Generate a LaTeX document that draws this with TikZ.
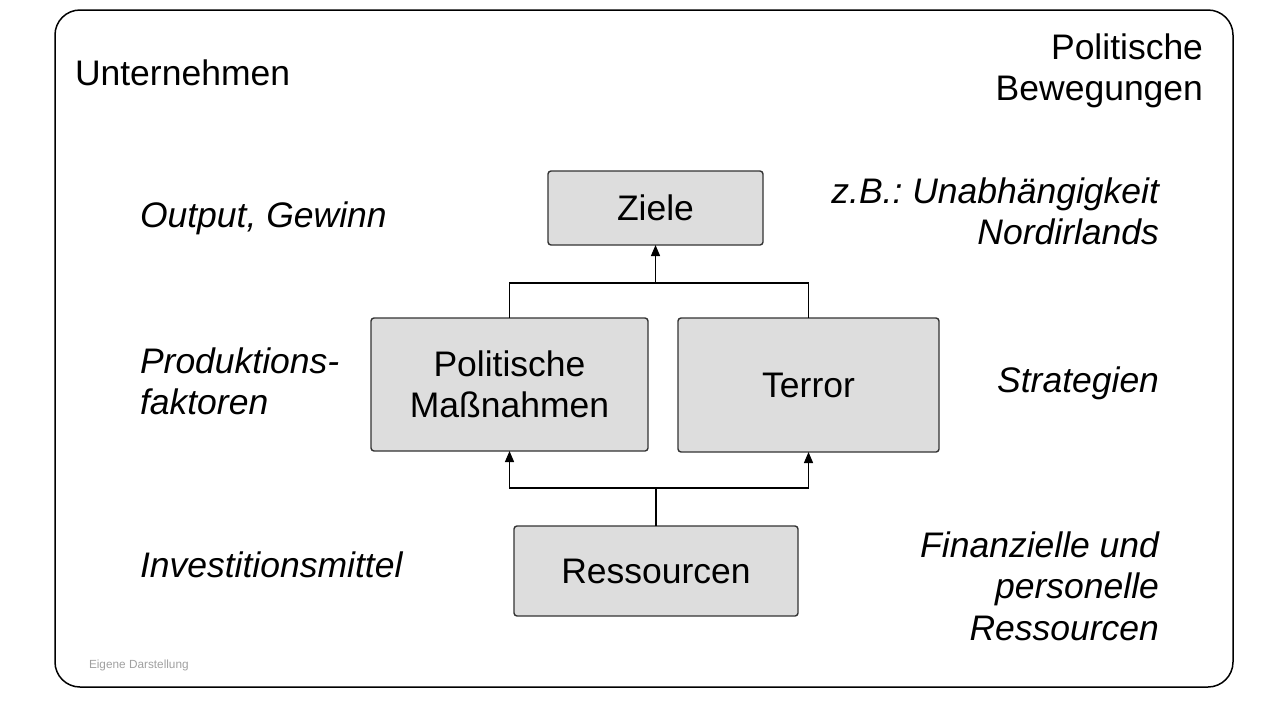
\documentclass[tikz,border=0pt]{standalone}
\usepackage{fontspec}
\setmainfont{Liberation Sans}
\usetikzlibrary{arrows.meta}
\definecolor{boxfill}{HTML}{DDDDDD}
\definecolor{boxline}{HTML}{333333}
\definecolor{notegray}{HTML}{A0A0A0}
\frenchspacing
\begin{document}
\begin{tikzpicture}[x=1pt,y=-1pt,
  every node/.style={inner sep=0pt, outer sep=0pt},
  bigfont/.style={font=\fontsize{35.5}{41.5}\selectfont},
  blockbox/.style={bigfont, draw=boxline, fill=boxfill, line width=1.4pt, rounded corners=3pt, align=center},
  lbl/.style={bigfont, anchor=base west},
  rlbl/.style={bigfont, anchor=base east},
  conn/.style={line width=1.3pt, black},
  arr/.style={conn, -{Triangle[length=11pt,width=9pt]}}]
\useasboundingbox (0,0) rectangle (1270,702);
\draw[line width=1.5pt, rounded corners=25pt] (55,10) rectangle (1233,687);

% boxes
\node[blockbox, minimum width=215pt, minimum height=74pt] (ziele) at (655.5,208) {Ziele};
\node[blockbox, minimum width=277pt, minimum height=133pt] (pm) at (509.5,384.5) {Politische\\Maßnahmen};
\node[blockbox, minimum width=261pt, minimum height=134pt] (terror) at (808.5,385) {Terror};
\node[blockbox, minimum width=284pt, minimum height=90pt] (res) at (656,571) {Ressourcen};

% junctions
\coordinate (jtop) at (ziele.south |- 0,283);
\coordinate (jbot) at (res.north |- 0,488);

\draw[conn] (pm.north) |- (jtop) -| (terror.north);
\draw[arr] (jtop) -- (ziele.south);
\draw[conn] (res.north) -- (jbot);
\draw[arr] (jbot) -| (pm.south);
\draw[arr] (jbot) -| (terror.south);

% left labels
\node[lbl] (unt) at (75,85) {Unternehmen};
\node[lbl] (out) at (140,227) {\itshape Output, Gewinn};
\node[lbl] (prod) at (140,373) {\itshape\begin{tabular}[t]{@{}l@{}}Produktions-\\faktoren\end{tabular}};
\node[lbl] (inv) at (140,577) {\itshape Investitionsmittel};

% right labels
\node[rlbl] (pol) at (1203,59) {\begin{tabular}[t]{@{}r@{}}Politische\\Bewegungen\end{tabular}};
\node[rlbl] (zb) at (1159,203) {\itshape\begin{tabular}[t]{@{}r@{}}z.B.: Unabhängigkeit\\Nordirlands\end{tabular}};
\node[rlbl] (str) at (1159,392) {\itshape Strategien};
\node[rlbl] (fin) at (1159,557) {\itshape\begin{tabular}[t]{@{}r@{}}Finanzielle und\\personelle\\Ressourcen\end{tabular}};

\node[anchor=base west, font=\fontsize{11.8}{14}\selectfont, text=notegray] (src) at (89,668) {Eigene Darstellung};
\end{tikzpicture}
\end{document}
